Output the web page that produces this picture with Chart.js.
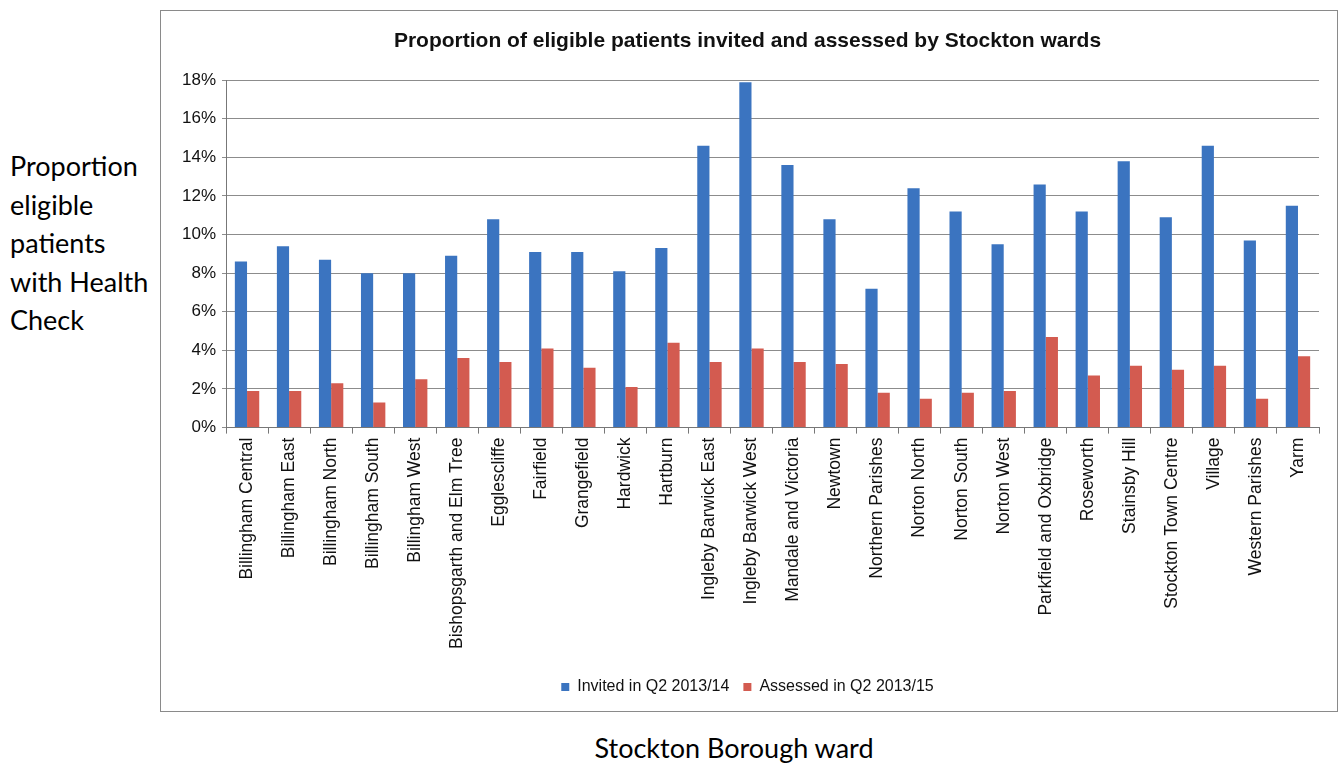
<!DOCTYPE html>
<html>
<head>
<meta charset="utf-8">
<script src="https://cdn.jsdelivr.net/npm/chart.js"></script>
<style>
  body { margin: 0; background: #fff; width: 1340px; height: 765px; position: relative; overflow: hidden; }
  #ylab { position: absolute; left: 10px; top: 147px; font: 27px Lato, "Open Sans", sans-serif; line-height: 38.5px; color: #000; }
  #xlab { position: absolute; left: 0; width: 1468px; top: 731px; text-align: center; font: 27px Lato, "Open Sans", sans-serif; color: #000; }
  #frame { position: absolute; left: 160px; top: 10px; width: 1176px; height: 700px; border: 1px solid #8a8a8a; }
</style>
</head>
<body>
<div id="ylab">Proportion<br>eligible<br>patients<br>with Health<br>Check</div>
<div id="frame"><canvas id="c" width="1176" height="700"></canvas></div>
<div id="xlab">Stockton Borough ward</div>
<script>
// === Données ===
const wards = ["Billingham Central", "Billingham East", "Billingham North", "Billingham South",
  "Billingham West", "Bishopsgarth and Elm Tree", "Egglescliffe", "Fairfield", "Grangefield",
  "Hardwick", "Hartburn", "Ingleby Barwick East", "Ingleby Barwick West", "Mandale and Victoria",
  "Newtown", "Northern Parishes", "Norton North", "Norton South", "Norton West",
  "Parkfield and Oxbridge", "Roseworth", "Stainsby Hill", "Stockton Town Centre", "Village",
  "Western Parishes", "Yarm"];

const invited = [8.6, 9.4, 8.7, 8.0, 8.0, 8.9, 10.8, 9.1, 9.1, 8.1, 9.3, 14.6, 17.9, 13.6,
  10.8, 7.2, 12.4, 11.2, 9.5, 12.6, 11.2, 13.8, 10.9, 14.6, 9.7, 11.5];

const assessed = [1.9, 1.9, 2.3, 1.3, 2.5, 3.6, 3.4, 4.1, 3.1, 2.1, 4.4, 3.4, 4.1, 3.4,
  3.3, 1.8, 1.5, 1.8, 1.9, 4.7, 2.7, 3.2, 3.0, 3.2, 1.5, 3.7];

const seriesNames = ["Invited in Q2 2013/14", "Assessed in Q2 2013/15"];
const yTicks = [0, 2, 4, 6, 8, 10, 12, 14, 16, 18];

const police = "'Liberation Sans', Arial, sans-serif";

new Chart(document.getElementById("c"), {
  type: "bar",
  data: {
    labels: wards,
    datasets: [
      { label: seriesNames[0], data: invited, backgroundColor: "#3b74c0" },
      { label: seriesNames[1], data: assessed, backgroundColor: "#d35b50" }
    ]
  },
  options: {
    responsive: false,
    animation: false,
    datasets: { bar: { categoryPercentage: 0.58, barPercentage: 1.0 } },
    layout: { padding: { left: 15, right: 18, top: 2, bottom: 6 } },
    plugins: {
      title: {
        display: true,
        text: "Proportion of eligible patients invited and assessed by Stockton wards",
        color: "#111",
        font: { family: police, size: 21, weight: "bold" },
        padding: { top: 16, bottom: 26 }
      },
      legend: {
        position: "bottom",
        labels: {
          color: "#111",
          font: { family: police, size: 16 },
          boxWidth: 8, boxHeight: 8,
          padding: 14
        }
      },
      tooltip: { enabled: false }
    },
    scales: {
      x: {
        // un peu d'espace sous les étiquettes, avant la légende
        afterFit: s => { s.height += 12; },
        ticks: {
          color: "#111",
          font: { family: police, size: 17.5 },
          minRotation: 90, maxRotation: 90,
          autoSkip: false, padding: 4
        },
        grid: { drawOnChartArea: false, drawTicks: true, tickLength: 6, color: "#777" },
        border: { color: "#777" }
      },
      y: {
        min: 0, max: 18,
        afterBuildTicks: axis => { axis.ticks = yTicks.map(v => ({ value: v })); },
        ticks: {
          color: "#111",
          font: { family: police, size: 17 },
          callback: v => v + "%",
          padding: 6
        },
        grid: { color: "#8c8c8c", tickLength: 4 },
        border: { color: "#777" }
      }
    }
  }
});
</script>
</body>
</html>
